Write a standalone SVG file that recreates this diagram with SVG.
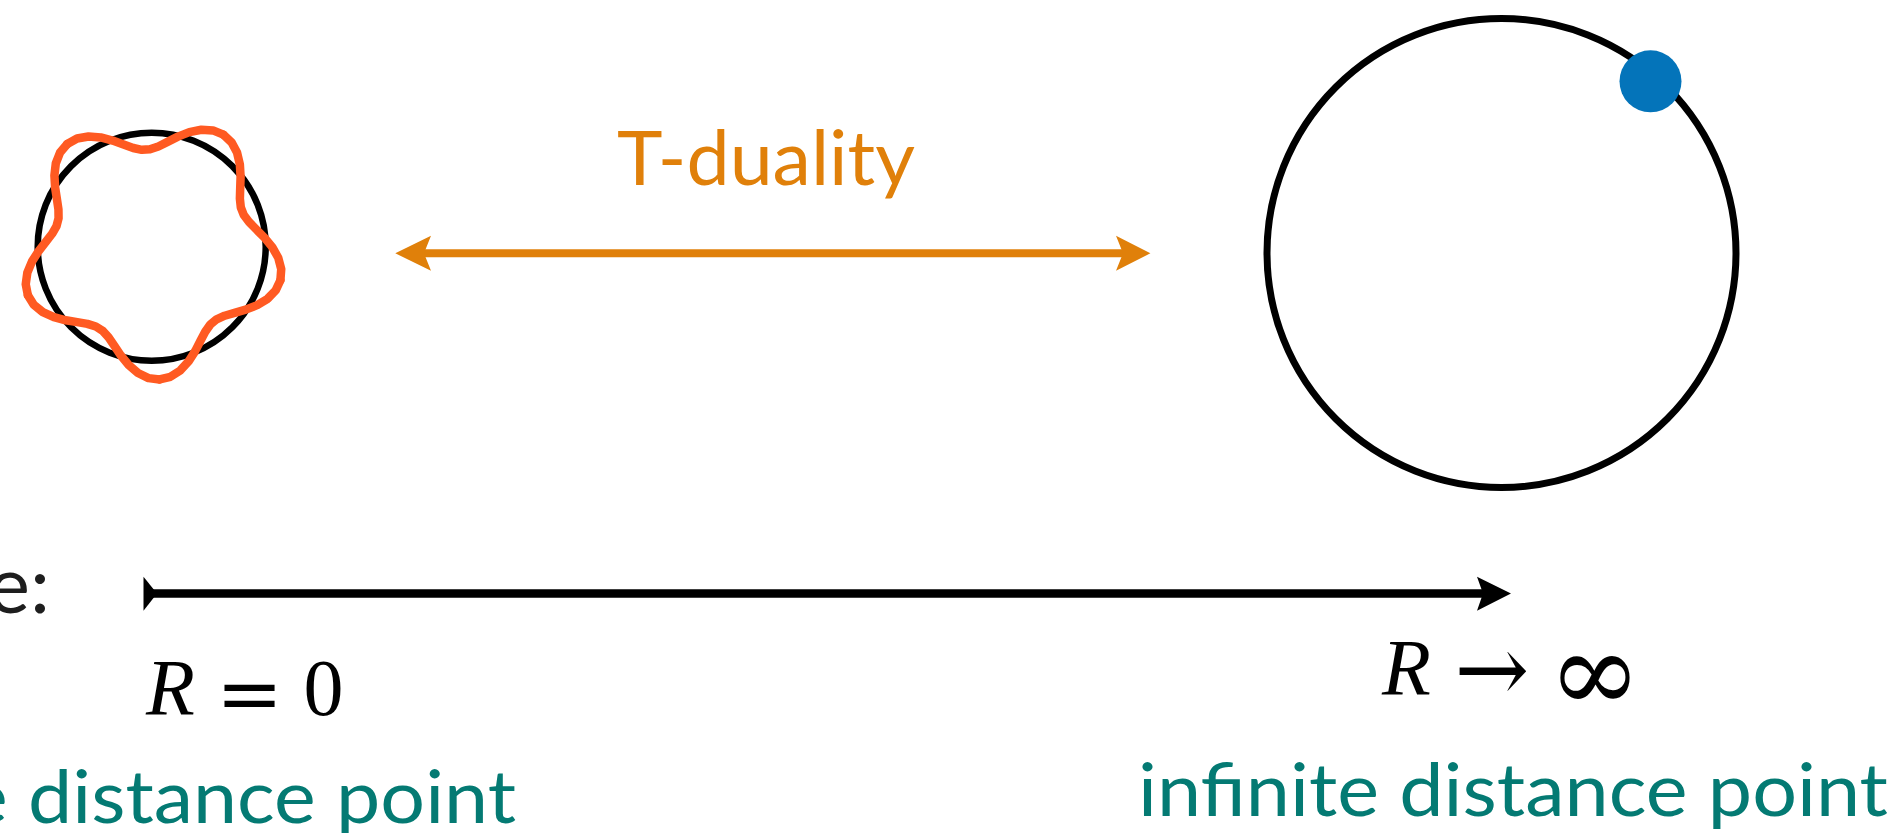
<svg xmlns="http://www.w3.org/2000/svg" xmlns:xlink="http://www.w3.org/1999/xlink" width="1896" height="833" viewBox="0 0 1896 833">
  <style>
    .teal { font-family: Lato, "Open Sans", sans-serif; fill: #047A73; font-size: 74px; }
    .dark { font-family: Lato, "Open Sans", sans-serif; fill: #1E1E1E; font-size: 80px; }
    .orangeTxt { font-family: Lato, "Open Sans", sans-serif; fill: #E0800A; font-size: 76px; }
    .math { font-family: "Liberation Serif", "Times New Roman", serif; fill: #000; font-size: 80px; }
    .sym { font-family: "DejaVu Serif", serif; fill: #000; }
    .ring { fill: none; stroke: #000; }
    .wave { fill: none; stroke: #FF5A22; stroke-width: 8.5; stroke-linejoin: round; stroke-linecap: round; }
  </style>
  <defs>
    <path id="wavePeriod" d="M128.71,33.53 L123.98,43.66 L115.88,52.08 L105.44,58.45 L94.00,62.93 L82.84,66.13 L72.98,69.01 L64.91,72.60 L58.61,77.78 L53.52,84.99 L48.78,94.11 L43.47,104.43 L36.86,114.79 L28.58,123.78 L18.75,130.10 L7.89,132.77"/>
  </defs>
  <rect width="1896" height="833" fill="#FFFFFF"/>

  <g id="small-circle">
    <circle class="ring" cx="151.7" cy="246.7" r="114" stroke-width="6.5"/>
    <g transform="translate(151.7,246.7)">
      <use xlink:href="#wavePeriod" class="wave"/>
      <use xlink:href="#wavePeriod" class="wave" transform="rotate(72)"/>
      <use xlink:href="#wavePeriod" class="wave" transform="rotate(144)"/>
      <use xlink:href="#wavePeriod" class="wave" transform="rotate(216)"/>
      <use xlink:href="#wavePeriod" class="wave" transform="rotate(288)"/>
    </g>
  </g>

  <g id="large-circle">
    <circle class="ring" cx="1501.5" cy="253" r="234.5" stroke-width="7"/>
    <circle cx="1650.5" cy="81.3" r="31" fill="#0474BA"/>
  </g>

  <g id="t-duality-label">
    <text class="orangeTxt" x="617" y="184.5" textLength="298" lengthAdjust="spacingAndGlyphs">T-duality</text>
  </g>

  <g id="connectors">
    <g id="t-duality-arrow" fill="#E0800A">
      <line x1="420" y1="253.3" x2="1125" y2="253.3" stroke="#E0800A" stroke-width="8"/>
      <polygon points="395.3,253.3 431,235.8 424,253.3 431,270.8"/>
      <polygon points="1150.4,253.3 1116,235.8 1123,253.3 1116,270.8"/>
    </g>
    <g id="radius-axis" fill="#000">
      <line x1="150" y1="593.5" x2="1488" y2="593.5" stroke="#000" stroke-width="8.5"/>
      <polygon points="143.5,576.7 157,593.5 143.5,610.7"/>
      <polygon points="1511,593.5 1477,576.7 1483,593.5 1477,610.7"/>
    </g>
  </g>

  <g id="axis-label">
    <text class="dark" x="50" y="613" text-anchor="end">e:</text>
  </g>

  <g id="left-end">
    <text class="math" x="146" y="715" font-style="italic">R</text>
    <text class="sym" x="249.5" y="721" font-size="80" text-anchor="middle">=</text>
    <text class="math" x="323.5" y="715" text-anchor="middle">0</text>
    <text class="teal" x="-34" y="823" textLength="550" lengthAdjust="spacingAndGlyphs">e distance point</text>
  </g>

  <g id="right-end">
    <text class="math" x="1382" y="695" font-style="italic">R</text>
    <text class="sym" font-size="95" text-anchor="middle" transform="translate(1492,702) scale(0.94,1)">→</text>
    <text class="sym" x="1595" y="711" font-size="112" text-anchor="middle">∞</text>
    <text class="teal" x="1138" y="816" textLength="750" lengthAdjust="spacingAndGlyphs">infinite distance point</text>
  </g>
</svg>
